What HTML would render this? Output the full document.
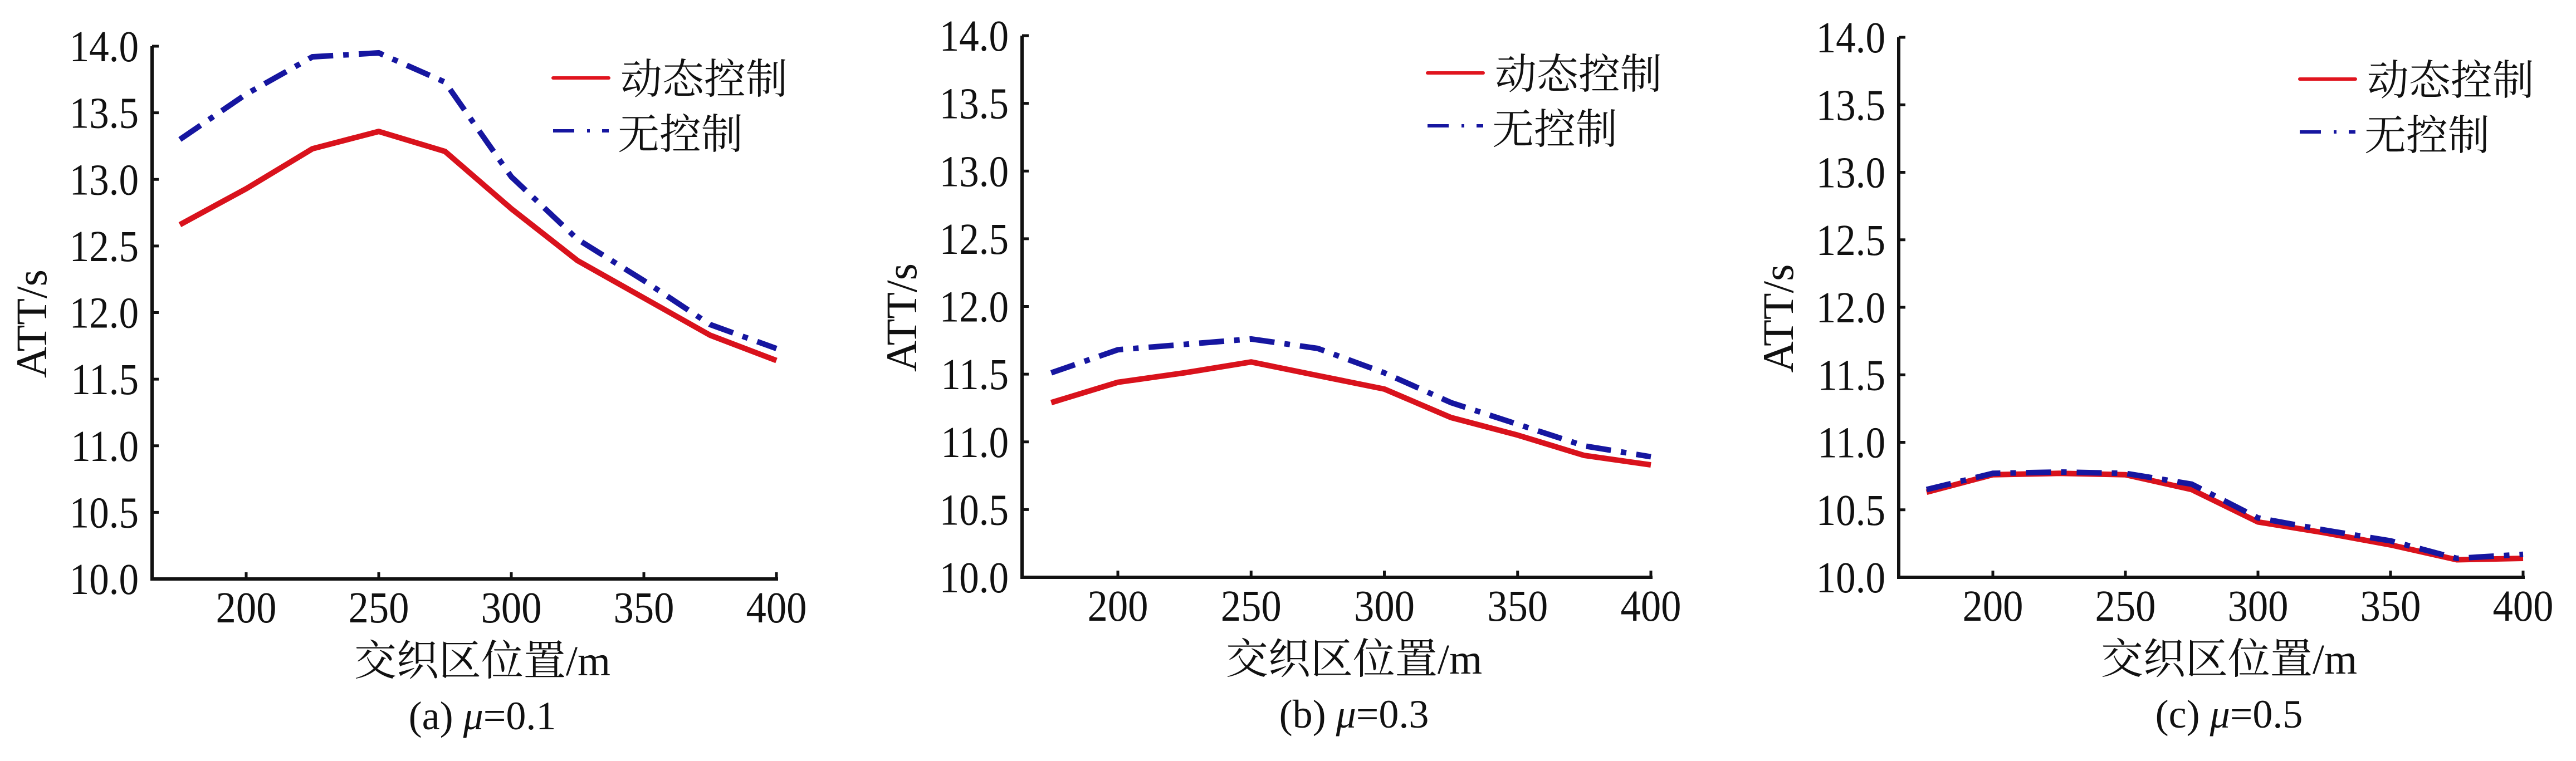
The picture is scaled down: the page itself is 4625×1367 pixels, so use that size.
<!DOCTYPE html>
<html><head><meta charset="utf-8">
<style>
html,body{margin:0;padding:0;background:#fff;}
svg{display:block;}
text{font-family:"Liberation Serif","Noto Serif CJK SC","Noto Sans CJK SC",serif;fill:#111;}
</style></head>
<body>
<svg id="fig" width="4625" height="1367" viewBox="0 0 4625 1367" xmlns="http://www.w3.org/2000/svg"></svg>
<script>
const categories = [175,200,225,250,275,300,325,350,375,400];
const xTicks = [200,250,300,350,400];
const yTicks = [10.0,10.5,11.0,11.5,12.0,12.5,13.0,13.5,14.0];
const redA = [12.66,12.93,13.23,13.36,13.21,12.78,12.39,12.11,11.83,11.64];
const blueA = [13.30,13.64,13.92,13.95,13.73,13.02,12.55,12.24,11.91,11.73];
const redB = [11.29,11.44,11.51,11.59,11.49,11.39,11.18,11.05,10.90,10.83];
const blueB = [11.51,11.68,11.72,11.76,11.69,11.51,11.29,11.13,10.97,10.89];
const redC = [10.63,10.76,10.77,10.76,10.65,10.41,10.33,10.24,10.13,10.14];
const blueC = [10.65,10.77,10.78,10.77,10.69,10.44,10.35,10.27,10.14,10.17];
const captions = ["(a) ", "(b) ", "(c) "];
const muValues = ["0.1","0.3","0.5"];

const NS="http://www.w3.org/2000/svg";
const svg=document.getElementById('fig');
function mk(tag,attrs,parent){const e=document.createElementNS(NS,tag);for(const k in attrs)e.setAttribute(k,attrs[k]);(parent||svg).appendChild(e);return e;}

const panels=[
 {ax:273,x200:442,x400:1394,yTop:83,yBot:1040,legY:140,red:redA,blue:blueA},
 {ax:1835,x200:2007,x400:2964,yTop:64,yBot:1037,legY:131,red:redB,blue:blueB},
 {ax:3409,x200:3578,x400:4530,yTop:67,yBot:1037,legY:142,red:redC,blue:blueC}
];

panels.forEach((p,i)=>{
  const g=mk('g',{});
  
  
  const sx=v=>p.x200+(v-200)*(p.x400-p.x200)/200;
  const sy=v=>p.yBot-(v-10)*(p.yBot-p.yTop)/4;
  const ya=mk('line',{x1:p.ax,y1:p.yTop,x2:p.ax,y2:p.yBot,stroke:'#111','stroke-width':6},g);
  
  
  const xa=mk('line',{x1:p.ax-3,y1:p.yBot,x2:p.x400+3,y2:p.yBot,stroke:'#111','stroke-width':6},g);
  
  
  yTicks.forEach(v=>{
    mk('line',{x1:p.ax,y1:sy(v),x2:p.ax+12,y2:sy(v),stroke:'#111','stroke-width':5},g);
    const t=mk('text',{x:0,y:0,'font-size':79,'text-anchor':'end',transform:`translate(${p.ax-24},${sy(v)+27}) scale(0.9,1)`},g);
    t.textContent=v.toFixed(1);
    
    
  });
  xTicks.forEach(v=>{
    mk('line',{x1:sx(v),y1:p.yBot,x2:sx(v),y2:p.yBot-12,stroke:'#111','stroke-width':5},g);
    const t=mk('text',{x:0,y:0,'font-size':79,'text-anchor':'middle',transform:`translate(${sx(v)},${p.yBot+78}) scale(0.92,1)`},g);
    t.textContent=v;
    
    
  });
  const yt=mk('text',{x:0,y:0,'font-size':78,'text-anchor':'middle',transform:`translate(${p.ax-190},${(p.yTop+p.yBot)/2+20}) rotate(-90)`},g);
  yt.textContent='ATT/s';
  
  
  const xt=mk('text',{x:p.x200+424,y:p.yBot+173,'font-size':76,'text-anchor':'middle'},g);
  xt.textContent='交织区位置/m';
  
  
  const cap=mk('text',{x:p.x200+424,y:p.yBot+270,'font-size':72,'text-anchor':'middle'},g);
  
  
  const t1=document.createElementNS(NS,'tspan');t1.textContent=captions[i];cap.appendChild(t1);
  const t2=document.createElementNS(NS,'tspan');t2.setAttribute('font-style','italic');t2.textContent='μ';cap.appendChild(t2);
  const t3=document.createElementNS(NS,'tspan');t3.textContent='='+muValues[i];cap.appendChild(t3);
  const pts=arr=>arr.map((v,k)=>sx(categories[k]).toFixed(1)+','+sy(v).toFixed(1)).join(' ');
  const rl=mk('polyline',{points:pts(p.red),fill:'none',stroke:'#d9121c','stroke-width':10,'stroke-linejoin':'round'},g);
  
  
  const bl=mk('polyline',{points:pts(p.blue),fill:'none',stroke:'#1616a0','stroke-width':10,'stroke-dasharray':'45 18 10 18'},g);
  
  
  const lx=p.x400-401;
  const l1=mk('line',{x1:lx,y1:p.legY,x2:lx+100,y2:p.legY,stroke:'#e0141e','stroke-width':6,'stroke-linecap':'round'},g);
  
  
  const lt1=mk('text',{x:lx+121,y:p.legY+28,'font-size':75,'font-family':'"Noto Serif CJK SC","Noto Sans CJK SC",serif'},g);
  lt1.textContent='动态控制';
  
  
  const l2=mk('line',{x1:lx,y1:p.legY+95,x2:lx+100,y2:p.legY+95,stroke:'#1616a0','stroke-width':6,'stroke-dasharray':'38 23 5 22 12'},g);
  
  
  const lt2=mk('text',{x:lx+116,y:p.legY+127,'font-size':75,'font-family':'"Noto Serif CJK SC","Noto Sans CJK SC",serif'},g);
  lt2.textContent='无控制';
  
  
});
</script>
</body></html>
